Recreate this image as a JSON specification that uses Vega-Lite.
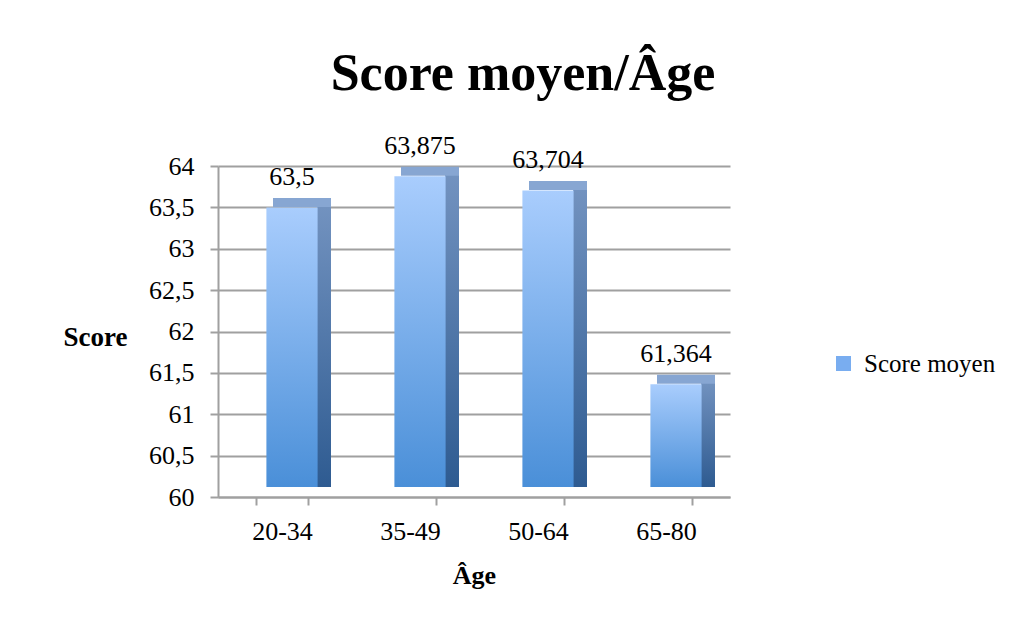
{
  "$schema": "https://vega.github.io/schema/vega-lite/v6.json",
  "autosize": {"type": "none"},
  "width": 512,
  "height": 331,
  "padding": {"left": 218, "top": 166, "right": 295, "bottom": 129},
  "background": "white",
  "config": {
    "font": "Liberation Serif",
    "view": {"stroke": null},
    "locale": {"number": {"decimal": ",", "thousands": " ", "grouping": [3], "currency": ["", " €"]}}
  },
  "title": {
    "text": "Score moyen/Âge",
    "fontSize": 52,
    "fontWeight": "bold",
    "font": "Liberation Serif",
    "color": "black",
    "anchor": "middle",
    "dx": 49,
    "offset": 32
  },
  "data": {
    "values": [
      {"age": "20-34", "score": 63.5, "serie": "Score moyen"},
      {"age": "35-49", "score": 63.875, "serie": "Score moyen"},
      {"age": "50-64", "score": 63.704, "serie": "Score moyen"},
      {"age": "65-80", "score": 61.364, "serie": "Score moyen"}
    ]
  },
  "encoding": {
    "x": {
      "field": "age",
      "type": "nominal",
      "sort": null,
      "scale": {"paddingInner": 0.6, "paddingOuter": 0.3},
      "axis": {
        "title": "Âge",
        "titleFont": "Liberation Serif",
        "titleFontSize": 26,
        "titleFontWeight": "bold",
        "titleColor": "black",
        "titlePadding": 18,
        "labelAngle": 0,
        "labelFontSize": 26,
        "labelColor": "black",
        "labelPadding": 13,
        "domainColor": "#a0a0a0",
        "domainWidth": 2,
        "tickColor": "#a0a0a0",
        "tickWidth": 2,
        "tickSize": 8,
        "tickBand": "extent",
        "grid": false
      }
    },
    "y": {
      "field": "score",
      "type": "quantitative",
      "scale": {"domain": [60, 64], "zero": false, "nice": false},
      "axis": {
        "title": "Score",
        "titleAngle": 0,
        "titleFont": "Liberation Serif",
        "titleFontSize": 27,
        "titleFontWeight": "bold",
        "titleColor": "black",
        "titleAlign": "center",
        "titleBaseline": "middle",
        "titleX": -123,
        "titleY": 171,
        "values": [60, 60.5, 61, 61.5, 62, 62.5, 63, 63.5, 64],
        "format": "~g",
        "labelFontSize": 26,
        "labelColor": "black",
        "labelPadding": 16,
        "domainColor": "#a0a0a0",
        "domainWidth": 2,
        "tickColor": "#a0a0a0",
        "tickWidth": 2,
        "tickSize": 8,
        "grid": true,
        "gridColor": "#a0a0a0",
        "gridWidth": 2
      }
    }
  },
  "layer": [
    {
      "mark": {
        "type": "bar",
        "width": 14,
        "xOffset": 42,
        "yOffset": -5,
        "fill": {
          "gradient": "linear",
          "x1": 0, "y1": 0, "x2": 0, "y2": 1,
          "stops": [
            {"offset": 0, "color": "#7393c0"},
            {"offset": 1, "color": "#2e5b91"}
          ]
        }
      },
      "encoding": {"y2": {"datum": 60.12}}
    },
    {
      "mark": {"type": "tick", "orient": "horizontal", "thickness": 9, "size": 58, "xOffset": 20, "yOffset": -5, "color": "#87a6d2", "opacity": 1}
    },
    {
      "mark": {
        "type": "bar",
        "xOffset": 10,
        "fill": {
          "gradient": "linear",
          "x1": 0, "y1": 0, "x2": 0, "y2": 1,
          "stops": [
            {"offset": 0, "color": "#a9cdfd"},
            {"offset": 1, "color": "#4a8fd8"}
          ]
        }
      },
      "encoding": {"y2": {"datum": 60.12}}
    },
    {
      "mark": {"type": "text", "dy": -30, "dx": 10, "fontSize": 26, "color": "black", "font": "Liberation Serif"},
      "encoding": {"text": {"field": "score", "type": "quantitative", "format": "~g"}}
    },
    {
      "mark": {"type": "point", "shape": "square", "filled": true, "opacity": 0},
      "encoding": {
        "color": {
          "field": "serie",
          "type": "nominal",
          "scale": {"range": ["#79adf0"]},
          "legend": {
            "title": null,
            "orient": "none",
            "legendX": 613,
            "legendY": 185,
            "symbolType": "square",
            "symbolSize": 225,
            "symbolOpacity": 1,
            "symbolStrokeWidth": 0,
            "labelFontSize": 25,
            "labelFont": "Liberation Serif",
            "labelColor": "black",
            "labelOffset": 8
          }
        }
      }
    }
  ]
}
